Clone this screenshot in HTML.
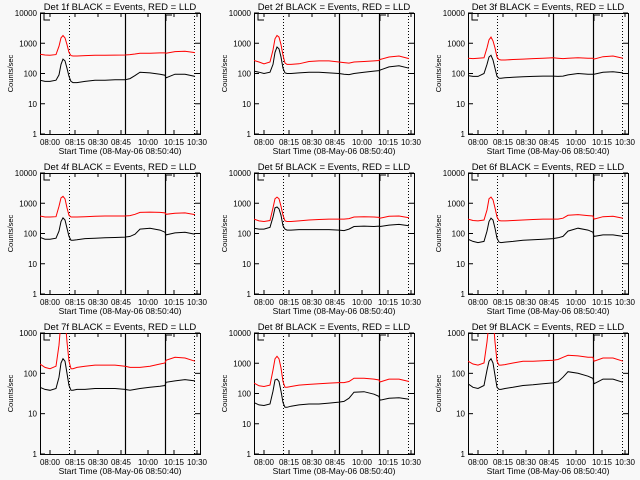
<!DOCTYPE html>
<html><head><meta charset="utf-8">
<style>
html,body{margin:0;padding:0;background:#f8f8f8;}
svg{display:block;font-family:"Liberation Sans",sans-serif;}
</style></head>
<body>
<svg id="chart" width="640" height="480" viewBox="0 0 640 480" xmlns="http://www.w3.org/2000/svg">
<rect x="0" y="0" width="640" height="480" fill="#f8f8f8"/>
</svg>
<script>
// time samples (minutes from plot start)
const times = [0,5,10,16,19,21,23,25,27,29,31,33,37,45,55,65,75,85,90,95,100,110,120,125,126,135,145,155];
const tickLabels = ["08:00","08:15","08:30","08:45","10:00","10:15","10:30"];
const tickTimes = [10,35,58,81,108,134,157];
const detNames = ["1f","2f","3f","4f","5f","6f","7f","8f","9f"];
const decadesTop = [4,4,4,4,4,4,3,4,3];
const eventsP1 = [60,55,55,60,90,200,300,260,150,80,55,50,50,55,60,60,62,62,68,85,110,105,95,88,72,95,95,80];
const lldP1 = [430,410,400,420,800,1500,1800,1500,900,500,390,380,380,390,400,400,405,410,420,440,470,470,480,480,470,530,540,490];
const eventsP2 = [120,110,100,110,200,500,750,650,350,150,105,100,100,105,110,110,105,100,95,92,100,110,120,125,130,165,180,150];
const lldP2 = [270,240,210,240,600,1400,1800,1600,900,400,220,200,200,210,250,260,260,240,230,220,240,250,260,270,290,350,380,310];
const eventsP3 = [85,80,80,100,200,350,400,280,150,80,70,70,72,75,78,80,82,82,80,82,90,100,95,95,95,110,115,105];
const lldP3 = [320,310,320,330,700,1300,1600,1200,700,350,290,280,280,290,300,310,320,330,320,310,320,330,320,320,300,360,380,320];
const eventsP4 = [75,65,65,70,120,250,330,280,150,80,60,60,62,68,70,72,74,76,80,95,140,150,130,110,90,105,110,95];
const lldP4 = [380,350,350,360,800,1500,1700,1400,700,400,350,350,350,360,370,380,380,380,390,430,500,510,500,480,430,470,480,420];
const eventsP5 = [150,140,140,160,350,700,750,650,400,180,140,130,130,135,135,135,135,130,125,140,170,175,170,175,170,190,200,180];
const lldP5 = [300,260,250,270,700,1400,1600,1400,800,400,260,250,250,260,280,290,300,300,300,310,350,360,350,340,320,370,380,330];
const eventsP6 = [65,55,50,55,120,250,320,280,150,70,52,50,52,55,60,62,65,68,72,80,120,150,130,110,80,90,90,80];
const lldP6 = [300,270,260,280,600,1400,1600,1300,700,350,270,260,260,270,280,290,300,300,300,320,400,420,390,380,300,360,370,320];
const eventsP7 = [45,40,38,42,80,180,230,200,100,50,38,38,40,40,42,42,42,40,38,40,42,45,48,50,60,65,70,65];
const lldP7 = [170,140,130,150,500,2000,3000,2500,600,200,130,130,140,150,160,160,160,150,140,140,140,150,170,180,210,250,240,200];
const eventsP8 = [50,42,40,45,120,280,300,250,120,50,35,35,38,42,45,45,48,52,55,70,110,115,95,80,60,70,72,65];
const lldP8 = [220,180,170,190,600,1400,1700,1400,700,250,160,160,170,190,200,210,220,230,230,250,320,320,300,280,240,300,300,250];
const eventsP9 = [55,45,42,50,120,200,230,180,90,45,40,40,42,45,50,52,55,58,62,80,110,100,85,75,55,72,72,60];
const lldP9 = [200,170,160,180,600,1800,3000,2500,600,200,160,160,165,180,200,200,205,210,220,250,280,270,250,250,200,240,240,200];
const eventsAll = [eventsP1,eventsP2,eventsP3,eventsP4,eventsP5,eventsP6,eventsP7,eventsP8,eventsP9];
const lldAll = [lldP1,lldP2,lldP3,lldP4,lldP5,lldP6,lldP7,lldP8,lldP9];
const markerTimes = {dot1:29, solid1:85, solid2:125, dot2:154};

const NS="http://www.w3.org/2000/svg";
const svg=document.getElementById('chart');
function mk(tag,attrs,parent){const e=document.createElementNS(NS,tag);for(const k in attrs)e.setAttribute(k,attrs[k]);(parent||svg).appendChild(e);return e;}

for(let p=0;p<9;p++){
  const col=p%3,row=Math.floor(p/3);
  const L=40+col*214, T=13+row*160, W=160, H=121;
  const top=decadesTop[p];
  const xS=t=>L+t/160*W;
  const yS=v=>T+H-(Math.log10(v)/top)*H;
  const g=mk('g',{});
  
  
  const cp=mk('clipPath',{id:'cp'+p},g);
  mk('rect',{x:L,y:T,width:W,height:H},cp);
  const ti=mk('text',{x:L+W/2,y:T-3,'text-anchor':'middle','font-size':'9.5'},g);
  ti.textContent='Det '+detNames[p]+' BLACK = Events, RED = LLD';
  
  
  mk('rect',{x:L+0.5,y:T+0.5,width:W,height:H,fill:'none',stroke:'#000','stroke-width':1},g);
  for(let d=0;d<=top;d++){
    const y=yS(Math.pow(10,d));
    mk('line',{x1:L,x2:L+5,y1:y,y2:y,stroke:'#000'},g);
    mk('line',{x1:L+W-5,x2:L+W,y1:y,y2:y,stroke:'#000'},g);
    const lb=mk('text',{x:L-3,y:y+3,'text-anchor':'end','font-size':'8'},g);
    lb.textContent=String(Math.pow(10,d));
    
    
  }
  tickTimes.forEach((t,i)=>{
    const x=xS(t);
    mk('line',{x1:x,x2:x,y1:T+H,y2:T+H-4,stroke:'#000'},g);
    mk('line',{x1:x,x2:x,y1:T,y2:T+4,stroke:'#000'},g);
    const lb=mk('text',{x:x,y:T+H+11,'text-anchor':'middle','font-size':'8'},g);
    lb.textContent=tickLabels[i];
    
    
  });
  const xt=mk('text',{x:L+W/2,y:T+H+20,'text-anchor':'middle','font-size':'8.5'},g);
  xt.textContent='Start Time (08-May-06 08:50:40)';
  
  
  const yt=mk('text',{x:0,y:0,'text-anchor':'middle','font-size':'7.5',transform:`translate(${L-27},${T+H/2}) rotate(-90)`},g);
  yt.textContent='Counts/sec';
  
  
  [['dot1',true],['solid1',false],['solid2',false],['dot2',true]].forEach(([k,dot])=>{
    const x=Math.round(xS(markerTimes[k]))+0.5;
    const ln=mk('line',{x1:x,x2:x,y1:T,y2:T+H,stroke:'#000','stroke-width':dot?1:1.2,'stroke-dasharray':dot?'1,2':'none'},g);
    
    
  });
  mk('path',{d:`M${L+4},${T+1} v6 h6`,fill:'none',stroke:'#000'},g);
  mk('path',{d:`M${xS(markerTimes.solid2)+1},${T+8} v-6 h6`,fill:'none',stroke:'#000'},g);
  const pts=arr=>arr.map((v,i)=>xS(times[i]).toFixed(1)+','+yS(v).toFixed(1)).join(' ');
  const r=mk('polyline',{points:pts(lldAll[p]),fill:'none',stroke:'#ff0000','stroke-width':1,'clip-path':`url(#cp${p})`},g);
  
  
  const b=mk('polyline',{points:pts(eventsAll[p]),fill:'none',stroke:'#000','stroke-width':1,'clip-path':`url(#cp${p})`},g);
  
  
}
</script>
</body></html>
